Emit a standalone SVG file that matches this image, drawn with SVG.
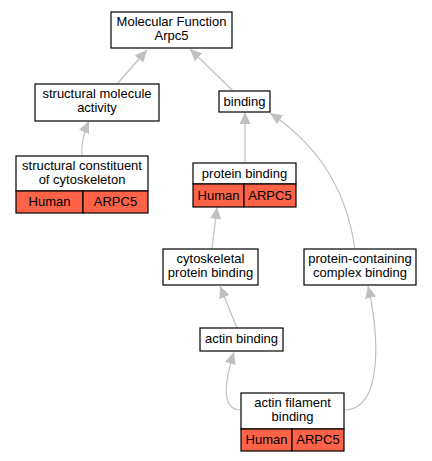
<svg xmlns="http://www.w3.org/2000/svg" width="432" height="461" viewBox="0 0 432 461">
<style>
.box{fill:#fff;stroke:#000;stroke-width:1.2}
.cell{fill:#ff6347;stroke:#000;stroke-width:1.2}
.t{font-family:"Liberation Sans",Arial,sans-serif;font-size:13px;text-anchor:middle;fill:#000}
.e{fill:none;stroke:#c0c0c0;stroke-width:1.2}
</style>
<defs>
<marker id="ah" markerUnits="userSpaceOnUse" markerWidth="13" markerHeight="11" refX="12" refY="5.5" orient="auto">
<path d="M0,0 L12,5.5 L0,11 Z" fill="#c0c0c0"/>
</marker>
</defs>
<rect width="432" height="461" fill="#fff"/>
<g id="edges">
<path class="e" marker-end="url(#ah)" d="M117,84 L147,50"/>
<path class="e" marker-end="url(#ah)" d="M233,91 L190,49"/>
<path class="e" marker-end="url(#ah)" d="M82,156 C81,145 84,132 89,121"/>
<path class="e" marker-end="url(#ah)" d="M245,163 L245,112"/>
<path class="e" marker-end="url(#ah)" d="M355,249 C345,180 310,140 270,113"/>
<path class="e" marker-end="url(#ah)" d="M212,249 L217,207"/>
<path class="e" marker-end="url(#ah)" d="M237,328 L220,286"/>
<path class="e" marker-end="url(#ah)" d="M241,410 C220,410 225,380 234,352"/>
<path class="e" marker-end="url(#ah)" d="M344,410 C385,410 378,330 368,286"/>
</g>
<g id="mf">
<rect class="box" x="111" y="12" width="121" height="36"/>
<text class="t" x="171.5" y="26">Molecular Function</text>
<text class="t" x="171.5" y="40">Arpc5</text>
</g>
<g id="sma">
<rect class="box" x="35" y="84" width="124" height="37"/>
<text class="t" x="97" y="98">structural molecule</text>
<text class="t" x="97" y="112">activity</text>
</g>
<g id="binding">
<rect class="box" x="219" y="91" width="51" height="21"/>
<text class="t" x="244.5" y="106">binding</text>
</g>
<g id="scc">
<rect class="box" x="16" y="156" width="132" height="35"/>
<text class="t" x="82" y="170">structural constituent</text>
<text class="t" x="82" y="184">of cytoskeleton</text>
<rect class="cell" x="16" y="191" width="67" height="22"/>
<rect class="cell" x="83" y="191" width="65" height="22"/>
<text class="t" x="49.5" y="206">Human</text>
<text class="t" x="115.5" y="206">ARPC5</text>
</g>
<g id="pb">
<rect class="box" x="193" y="163" width="103" height="21"/>
<text class="t" x="244.5" y="178">protein binding</text>
<rect class="cell" x="193" y="184" width="51" height="23"/>
<rect class="cell" x="244" y="184" width="52" height="23"/>
<text class="t" x="218.5" y="200">Human</text>
<text class="t" x="270" y="200">ARPC5</text>
</g>
<g id="cpb">
<rect class="box" x="163" y="249" width="95" height="36"/>
<text class="t" x="210.5" y="263">cytoskeletal</text>
<text class="t" x="210.5" y="277">protein binding</text>
</g>
<g id="pccb">
<rect class="box" x="304" y="249" width="112" height="36"/>
<text class="t" x="360" y="263">protein-containing</text>
<text class="t" x="360" y="277">complex binding</text>
</g>
<g id="ab">
<rect class="box" x="200" y="328" width="83" height="23"/>
<text class="t" x="241.5" y="343">actin binding</text>
</g>
<g id="afb">
<rect class="box" x="241" y="393" width="103" height="36"/>
<text class="t" x="292.5" y="407">actin filament</text>
<text class="t" x="292.5" y="421">binding</text>
<rect class="cell" x="241" y="429" width="51" height="22"/>
<rect class="cell" x="292" y="429" width="52" height="22"/>
<text class="t" x="266.5" y="444">Human</text>
<text class="t" x="318" y="444">ARPC5</text>
</g>
</svg>
